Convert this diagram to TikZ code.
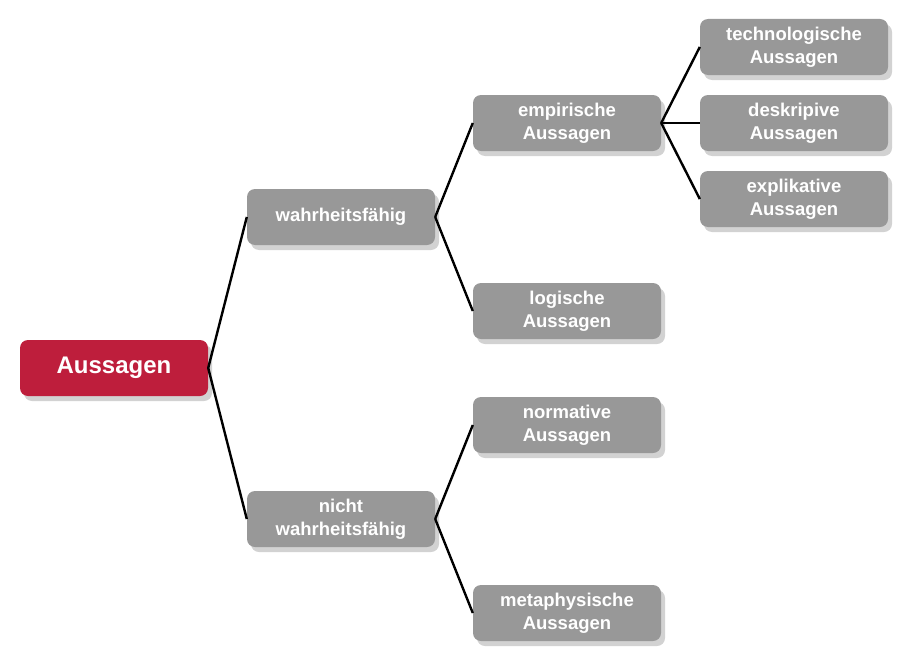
\documentclass[tikz,border=0pt]{standalone}
\usepackage{fontspec}
\setmainfont{Liberation Sans}
\usetikzlibrary{shadows}
\definecolor{rootred}{HTML}{BE1E3C}
\definecolor{boxgray}{HTML}{989898}
\definecolor{shadegray}{HTML}{D2D2D2}

\begin{document}
\begin{tikzpicture}[
    x=1pt, y=-1pt,
    box/.style={rounded corners=8pt, fill=boxgray, minimum width=188pt, minimum height=56pt,
      inner sep=0pt, align=center, text=white, font=\bfseries\fontsize{18.5}{23}\selectfont,
      drop shadow={shadow xshift=4pt, shadow yshift=-5pt, fill=shadegray, opacity=1}},
    root/.style={box, fill=rootred, font=\bfseries\fontsize{24}{28}\selectfont},
    link/.style={draw=black, line width=2.4pt},
  ]

  \useasboundingbox (0,0) rectangle (907,661);

  % ---------- root
  \node[root] (aus) at (114,368) {Aussagen};

  % ---------- second level
  \node[box] (wf)  at (341,217) {wahrheitsfähig};
  \node[box] (nwf) at (341,519) {nicht\\wahrheitsfähig};

  % ---------- third level
  \node[box] (emp)  at (567,123) {empirische\\Aussagen};
  \node[box] (log)  at (567,311) {logische\\Aussagen};
  \node[box] (norm) at (567,425) {normative\\Aussagen};
  \node[box] (meta) at (567,613) {metaphysische\\Aussagen};

  % ---------- fourth level
  \node[box] (tech) at (794,47)  {technologische\\Aussagen};
  \node[box] (desk) at (794,123) {deskripive\\Aussagen};
  \node[box] (expl) at (794,199) {explikative\\Aussagen};

  % ---------- links
  \draw[link] (aus.east) -- (wf.west);
  \draw[link] (aus.east) -- (nwf.west);
  \draw[link] (wf.east) -- (emp.west);
  \draw[link] (wf.east) -- (log.west);
  \draw[link] (nwf.east) -- (norm.west);
  \draw[link] (nwf.east) -- (meta.west);
  \draw[link] (emp.east) -- (tech.west);
  \draw[link] (emp.east) -- (desk.west);
  \draw[link] (emp.east) -- (expl.west);

\end{tikzpicture}
\end{document}
